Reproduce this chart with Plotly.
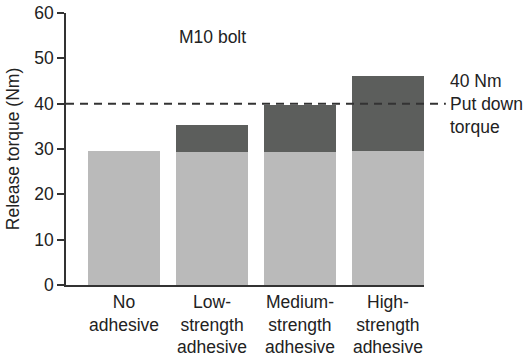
import plotly.graph_objects as go

categories = ["No<br>adhesive", "Low-<br>strength<br>adhesive",
              "Medium-<br>strength<br>adhesive", "High-<br>strength<br>adhesive"]
base_torque = [29.6, 29.4, 29.4, 29.5]
adhesive_gain = [0.0, 6.0, 10.2, 16.5]
put_down_torque = 40
y_ticks = [0, 10, 20, 30, 40, 50, 60]

FONT = "Liberation Sans, Arial, Helvetica, sans-serif"
TXT = "#222222"
FS = 17.5

fig = go.Figure()
fig.add_trace(go.Bar(x=categories, y=base_torque, marker=dict(color="#bababa", line=dict(width=0)),
                     showlegend=False, hoverinfo="skip"))
fig.add_trace(go.Bar(x=categories, y=adhesive_gain, marker=dict(color="#5c5e5c", line=dict(width=0)),
                     showlegend=False, hoverinfo="skip"))

fig.add_shape(type="line", xref="paper", yref="y", x0=0, x1=1.061,
              y0=put_down_torque, y1=put_down_torque,
              line=dict(color="#333333", width=2, dash="8px,6px"))

fig.add_annotation(xref="paper", yref="y", x=1.067, y=put_down_torque,
                   xanchor="left", yanchor="middle", align="left", showarrow=False,
                   text="40 Nm<br>Put down<br>torque",
                   font=dict(family=FONT, size=FS, color=TXT))
fig.add_annotation(xref="x", yref="y", x=categories[1], y=54.6,
                   xanchor="center", yanchor="middle", showarrow=False,
                   text="M10 bolt", font=dict(family=FONT, size=FS, color=TXT))

fig.update_layout(
    width=525, height=358,
    margin=dict(l=66, r=101, t=13, b=73, autoexpand=False),
    barmode="stack", bargap=0.18,
    paper_bgcolor="white", plot_bgcolor="white",
    font=dict(family=FONT, size=FS, color=TXT),
)
fig.update_xaxes(range=[-0.66, 3.41], showline=True, linecolor="#333333", linewidth=1.5,
                 ticks="", showgrid=False, zeroline=False, automargin=False,
                 tickfont=dict(family=FONT, size=FS, color=TXT))
fig.update_yaxes(range=[0, 60], tickvals=y_ticks, showline=True, linecolor="#333333",
                 linewidth=1.5, ticks="outside", ticklen=7, tickwidth=1.5, tickcolor="#333333",
                 showgrid=False, zeroline=False, automargin=False,
                 tickfont=dict(family=FONT, size=FS, color=TXT),
                 title=dict(text="Release torque (Nm)", standoff=10,
                            font=dict(family=FONT, size=FS, color=TXT)))

fig.write_html("out.html", config={"displayModeBar": False},
               post_script="document.body.style.margin='0';document.body.style.overflow='hidden';")
